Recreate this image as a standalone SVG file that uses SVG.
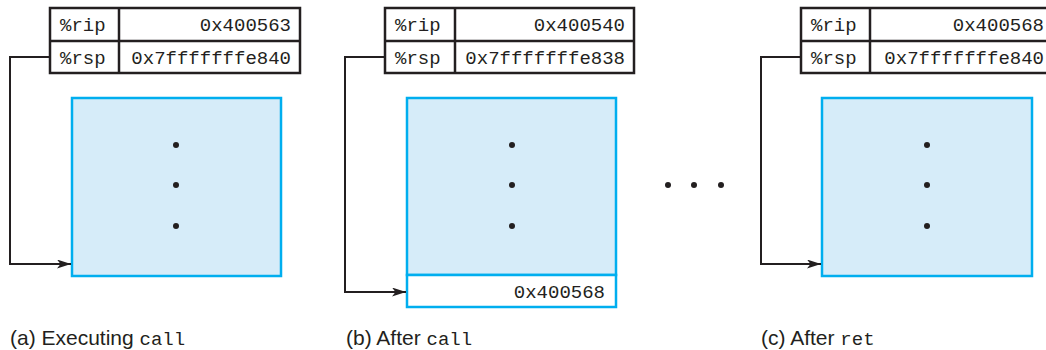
<svg xmlns="http://www.w3.org/2000/svg" width="1046" height="350" viewBox="0 0 1046 350">
<defs>
<marker id="ah" viewBox="0 0 14 9" refX="14" refY="4.5" markerWidth="14" markerHeight="9" markerUnits="userSpaceOnUse" orient="auto">
<path d="M0,0 L14,4.5 L0,9 L3.5,4.5 Z" fill="#231f20"/>
</marker>
<style>
.tbl{fill:#fff;stroke:#231f20;stroke-width:2.5}
.mono{font-family:"Liberation Mono",monospace;font-size:19px;fill:#231f20}
.stack{fill:#d6ecf9;stroke:#00aeef;stroke-width:2.5}
.cell{fill:#fff;stroke:#00aeef;stroke-width:2.5}
.dot{fill:#231f20}
.conn{fill:none;stroke:#231f20;stroke-width:2}
.cap{font-family:"Liberation Sans",Arial,sans-serif;font-size:21px;fill:#231f20}
.capm{font-family:"Liberation Mono",monospace;font-size:19px}
</style>
</defs>

<g id="panel-a">
<g id="regs-a">
<rect class="tbl" x="50" y="8" width="250" height="65"/>
<line class="tbl" x1="50" y1="41" x2="300" y2="41"/>
<line class="tbl" x1="119" y1="8" x2="119" y2="73"/>
<text class="mono" x="60" y="31">%rip</text>
<text class="mono" x="291" y="31" text-anchor="end">0x400563</text>
<text class="mono" x="60" y="64">%rsp</text>
<text class="mono" x="291" y="64" text-anchor="end">0x7fffffffe840</text>
</g>
<g id="stack-a">
<rect class="stack" x="72" y="98" width="209" height="178"/>
<circle class="dot" cx="176" cy="145" r="3"/>
<circle class="dot" cx="176" cy="185" r="3"/>
<circle class="dot" cx="176" cy="226" r="3"/>
</g>
<text class="cap" x="10" y="345">(a) Executing <tspan class="capm">call</tspan></text>
</g>

<g id="panel-b">
<g id="regs-b">
<rect class="tbl" x="385" y="8" width="249" height="65"/>
<line class="tbl" x1="385" y1="41" x2="634" y2="41"/>
<line class="tbl" x1="455" y1="8" x2="455" y2="73"/>
<text class="mono" x="395" y="31">%rip</text>
<text class="mono" x="625" y="31" text-anchor="end">0x400540</text>
<text class="mono" x="395" y="64">%rsp</text>
<text class="mono" x="625" y="64" text-anchor="end">0x7fffffffe838</text>
</g>
<g id="stack-b">
<rect class="stack" x="407" y="98" width="209" height="177"/>
<rect class="cell" x="407" y="275" width="209" height="32"/>
<text class="mono" x="605" y="298" text-anchor="end">0x400568</text>
<circle class="dot" cx="512" cy="145" r="3"/>
<circle class="dot" cx="512" cy="185" r="3"/>
<circle class="dot" cx="512" cy="226" r="3"/>
</g>
<text class="cap" x="346" y="345">(b) After <tspan class="capm">call</tspan></text>
</g>

<g id="ellipsis">
<circle class="dot" cx="668" cy="185" r="3"/>
<circle class="dot" cx="694" cy="185" r="3"/>
<circle class="dot" cx="721" cy="185" r="3"/>
</g>

<g id="panel-c">
<g id="regs-c">
<rect class="tbl" x="801" y="8" width="250" height="65"/>
<line class="tbl" x1="801" y1="41" x2="1051" y2="41"/>
<line class="tbl" x1="870" y1="8" x2="870" y2="73"/>
<text class="mono" x="811" y="31">%rip</text>
<text class="mono" x="1044" y="31" text-anchor="end">0x400568</text>
<text class="mono" x="811" y="64">%rsp</text>
<text class="mono" x="1044" y="64" text-anchor="end">0x7fffffffe840</text>
</g>
<g id="stack-c">
<rect class="stack" x="822" y="98" width="210" height="178"/>
<circle class="dot" cx="927" cy="145" r="3"/>
<circle class="dot" cx="927" cy="185" r="3"/>
<circle class="dot" cx="927" cy="226" r="3"/>
</g>
<text class="cap" x="761" y="345">(c) After <tspan class="capm">ret</tspan></text>
</g>

<g id="connectors">
<path class="conn" d="M50,57 H10 V264 H71" marker-end="url(#ah)"/>
<path class="conn" d="M385,57 H345 V292 H406" marker-end="url(#ah)"/>
<path class="conn" d="M801,57 H761 V264 H821" marker-end="url(#ah)"/>
</g>
</svg>
